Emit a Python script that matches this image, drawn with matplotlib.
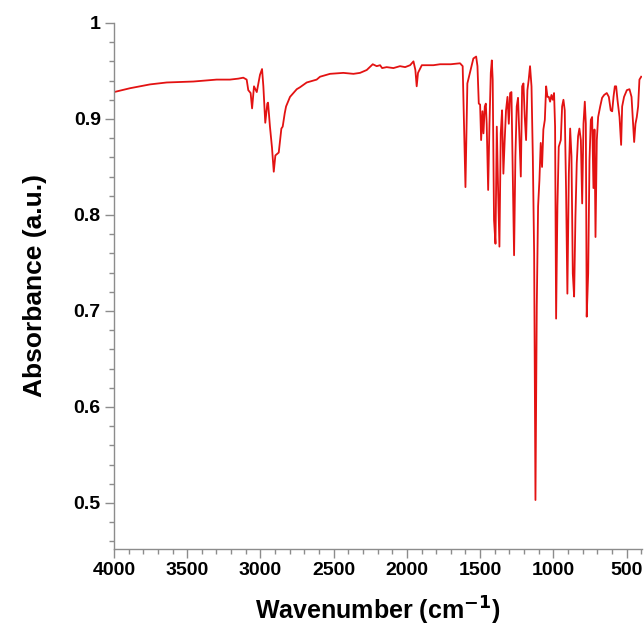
import numpy as np
import matplotlib
matplotlib.use("Agg")
import matplotlib.pyplot as plt
from matplotlib.ticker import MultipleLocator, FuncFormatter

# FTIR spectrum, vertices
wavenumber = [
    4000, 3891, 3754, 3640, 3458, 3299, 3208, 3151, 3117, 3094, 3083, 3067, 3057,
    3044, 3025, 3003, 2989, 2980, 2967, 2953, 2948, 2935, 2921, 2909, 2898, 2875,
    2857, 2848, 2834, 2825, 2798, 2775, 2752, 2730, 2684, 2661, 2616, 2593, 2525,
    2434, 2365, 2320, 2274, 2233, 2206, 2183, 2169, 2138, 2092, 2047, 2012, 1978,
    1955, 1942, 1933, 1924, 1898, 1864, 1819, 1773, 1700, 1637, 1619, 1600, 1587,
    1557, 1546, 1527, 1518, 1509, 1500, 1493, 1484, 1477, 1468, 1461, 1455, 1445,
    1436, 1427, 1420, 1414, 1405, 1395, 1386, 1377, 1368, 1359, 1350, 1341, 1332,
    1323, 1313, 1304, 1295, 1286, 1277, 1268, 1259, 1250, 1241, 1231, 1222, 1213,
    1204, 1195, 1186, 1177, 1168, 1159, 1149, 1140, 1131, 1122, 1113, 1104, 1095,
    1086, 1077, 1068, 1058, 1049, 1040, 1031, 1022, 1013, 1004, 995, 988, 981,
    972, 963, 949, 940, 931, 922, 913, 904, 894, 885, 876, 867, 858, 849, 840,
    831, 822, 812, 803, 794, 785, 778, 772, 762, 753, 744, 735, 726, 719, 712,
    703, 694, 680, 667, 653, 635, 621, 608, 598, 589, 580, 571, 562, 548, 537,
    530, 517, 498, 480, 466, 457, 448, 439, 430, 421, 412, 400,
]
absorbance = [
    0.928, 0.932, 0.936, 0.938, 0.939, 0.941, 0.941, 0.942, 0.943, 0.941, 0.930, 0.927, 0.911,
    0.934, 0.928, 0.946, 0.952, 0.934, 0.896, 0.916, 0.917, 0.892, 0.870, 0.845, 0.862, 0.865,
    0.890, 0.892, 0.906, 0.913, 0.923, 0.927, 0.931, 0.933, 0.938, 0.939, 0.941, 0.944, 0.947,
    0.948, 0.947, 0.948, 0.951, 0.957, 0.955, 0.956, 0.953, 0.954, 0.953, 0.955, 0.954, 0.956,
    0.960, 0.951, 0.934, 0.948, 0.956, 0.956, 0.956, 0.957, 0.957, 0.958, 0.955, 0.829, 0.937,
    0.956, 0.963, 0.965, 0.955, 0.916, 0.915, 0.878, 0.908, 0.885, 0.913, 0.916, 0.895, 0.826,
    0.895, 0.948, 0.961, 0.941, 0.795, 0.770, 0.892, 0.826, 0.767, 0.885, 0.909, 0.843, 0.878,
    0.909, 0.923, 0.895, 0.927, 0.928, 0.843, 0.758, 0.861, 0.913, 0.922, 0.878, 0.840, 0.934,
    0.937, 0.902, 0.878, 0.930, 0.941, 0.955, 0.934, 0.861, 0.760, 0.503, 0.705, 0.809, 0.836,
    0.875, 0.850, 0.889, 0.899, 0.934, 0.923, 0.923, 0.918, 0.925, 0.920, 0.927, 0.892, 0.692,
    0.809, 0.871, 0.878, 0.913, 0.920, 0.909, 0.826, 0.718, 0.843, 0.890, 0.861, 0.739, 0.715,
    0.798, 0.854, 0.882, 0.890, 0.878, 0.812, 0.895, 0.918, 0.895, 0.694, 0.739, 0.857, 0.899,
    0.902, 0.828, 0.889, 0.777, 0.878, 0.902, 0.913, 0.922, 0.925, 0.927, 0.923, 0.909, 0.908,
    0.923, 0.934, 0.934, 0.920, 0.902, 0.873, 0.913, 0.923, 0.930, 0.931, 0.923, 0.899, 0.876,
    0.895, 0.902, 0.913, 0.941, 0.944,
]

plt.rcParams['font.family'] = ['Liberation Sans', 'DejaVu Sans']
plt.rcParams['font.weight'] = 'bold'
plt.rcParams['mathtext.default'] = 'bf'

fig = plt.figure(figsize=(6.44, 6.31), dpi=100)
ax = fig.add_axes([0.177, 0.130, 0.820, 0.8336])

ax.plot(wavenumber, absorbance, color='#e31212', linewidth=1.3)

ax.set_xlim(4000, 394)
ax.set_ylim(0.452, 1.0)

ax.xaxis.set_major_locator(MultipleLocator(500))
ax.xaxis.set_minor_locator(MultipleLocator(100))
ax.yaxis.set_major_locator(MultipleLocator(0.1))
ax.yaxis.set_minor_locator(MultipleLocator(0.02))
ax.yaxis.set_major_formatter(FuncFormatter(lambda v, p: '%g' % round(v, 2)))

for side in ['top', 'right']:
    ax.spines[side].set_visible(False)
for side in ['left', 'bottom']:
    ax.spines[side].set_color('#8c8c8c')
    ax.spines[side].set_linewidth(1.0)

ax.tick_params(which='major', direction='out', length=6.5, width=1.0,
               color='#8c8c8c', labelsize=14, pad=3)
ax.tick_params(which='minor', direction='out', length=3.5, width=1.0,
               color='#8c8c8c')
for lab in ax.get_xticklabels() + ax.get_yticklabels():
    lab.set_fontweight('bold')

ax.set_xlabel('Wavenumber (cm$^{\\mathsf{-1}}$)', fontsize=18, fontweight='bold', labelpad=11)
ax.set_ylabel('Absorbance (a.u.)', fontsize=19, fontweight='bold', labelpad=19)

fig.savefig('out.png', dpi=100)
